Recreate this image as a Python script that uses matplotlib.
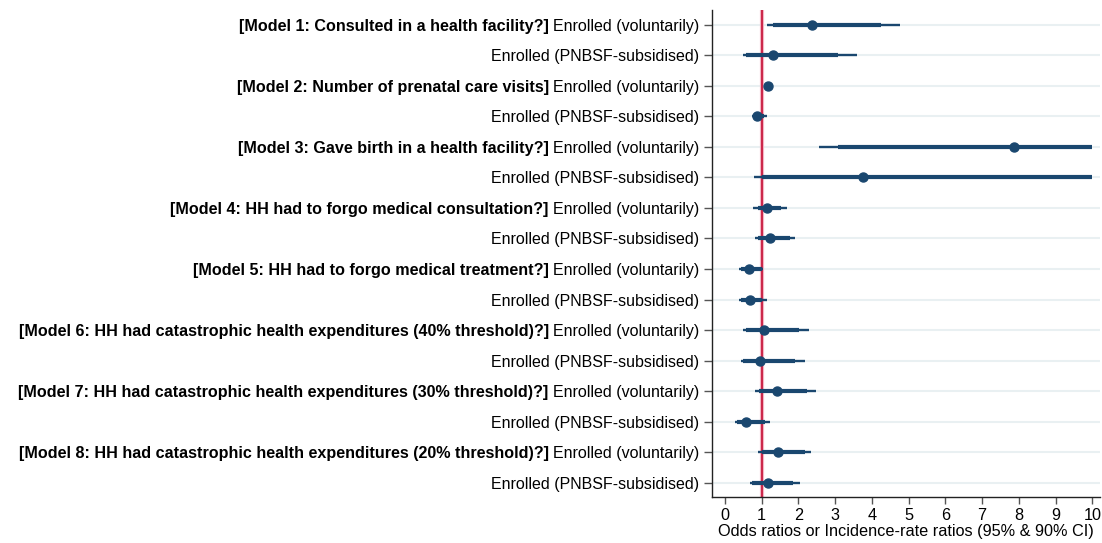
import matplotlib
matplotlib.use("Agg")
import matplotlib.pyplot as plt

plt.rcParams['font.family'] = ['Liberation Sans', 'DejaVu Sans']

models = [
    "[Model 1: Consulted in a health facility?]",
    "[Model 2: Number of prenatal care visits]",
    "[Model 3: Gave birth in a health facility?]",
    "[Model 4: HH had to forgo medical consultation?]",
    "[Model 5: HH had to forgo medical treatment?]",
    "[Model 6: HH had catastrophic health expenditures (40% threshold)?]",
    "[Model 7: HH had catastrophic health expenditures (30% threshold)?]",
    "[Model 8: HH had catastrophic health expenditures (20% threshold)?]",
]
groups = ["Enrolled (voluntarily)", "Enrolled (PNBSF-subsidised)"]

# one entry per row, top to bottom (model 1 voluntarily, model 1 PNBSF, ...)
estimate = [2.36, 1.32, 1.17, 0.89, 7.87, 3.76, 1.14, 1.24,
            0.65, 0.68, 1.07, 0.95, 1.43, 0.59, 1.46, 1.17]
lo95 = [1.16, 0.50, 1.12, 0.73, 2.57, 0.79, 0.77, 0.82,
        0.39, 0.39, 0.50, 0.43, 0.82, 0.27, 0.91, 0.68]
hi95 = [4.77, 3.61, 1.22, 1.14, 10.0, 10.0, 1.68, 1.91,
        1.04, 1.16, 2.28, 2.18, 2.47, 1.23, 2.34, 2.04]
lo90 = [1.30, 0.59, 1.14, 0.76, 3.08, 1.00, 0.90, 0.90,
        0.45, 0.45, 0.59, 0.50, 0.94, 0.33, 1.00, 0.75]
hi90 = [4.25, 3.07, 1.20, 1.08, 10.0, 10.0, 1.54, 1.77,
        1.00, 1.00, 2.02, 1.91, 2.25, 1.09, 2.18, 1.86]

navy = '#1a476f'

fig = plt.figure(figsize=(11.02, 5.43), dpi=100)
ax = fig.add_axes([0.646, 0.085, 0.352, 0.897])

rows = list(range(1, len(estimate) + 1))
for r in rows:
    ax.axhline(r, color='#e9f0f2', lw=1.5, zorder=0)

ax.hlines(rows, lo95, hi95, color=navy, lw=1.7, zorder=2)
ax.hlines(rows, lo90, hi90, color=navy, lw=3.0, zorder=3)
ax.plot(estimate, rows, 'o', color=navy, ms=6.5, zorder=4)
ax.axvline(1, color='#f3b6c4', lw=3.0, zorder=1)
ax.axvline(1, color='#c8193f', lw=1.3, zorder=1)

ax.set_xlim(-0.35, 10.2)
ax.set_ylim(16.46, 0.51)
ax.set_xticks(range(0, 11))
ax.set_xlabel("Odds ratios or Incidence-rate ratios (95% & 90% CI)", fontsize=11.7, labelpad=1)

ax.set_yticks(rows)
labels = []
for m in models:
    labels += groups
ax.set_yticklabels(labels, fontsize=11.5)
ax.tick_params(axis='y', length=6, width=1, color='#555555', pad=3)
ax.tick_params(axis='x', length=5, width=1, color='#555555', labelsize=11.7, pad=3)

for s in ['top', 'right']:
    ax.spines[s].set_visible(False)
for s in ['left', 'bottom']:
    ax.spines[s].set_color('#222222')
    ax.spines[s].set_linewidth(1)

# bold model titles in front of the "voluntarily" tick labels
fig.canvas.draw()
ticklabels = ax.get_yticklabels()
for i, m in enumerate(models):
    t = ticklabels[2 * i]
    ax.annotate(m + " ", xy=(0, 0.5), xycoords=t, ha='right', va='center',
                fontsize=11.65, fontweight='bold', annotation_clip=False)

fig.savefig("out.png", dpi=100)
